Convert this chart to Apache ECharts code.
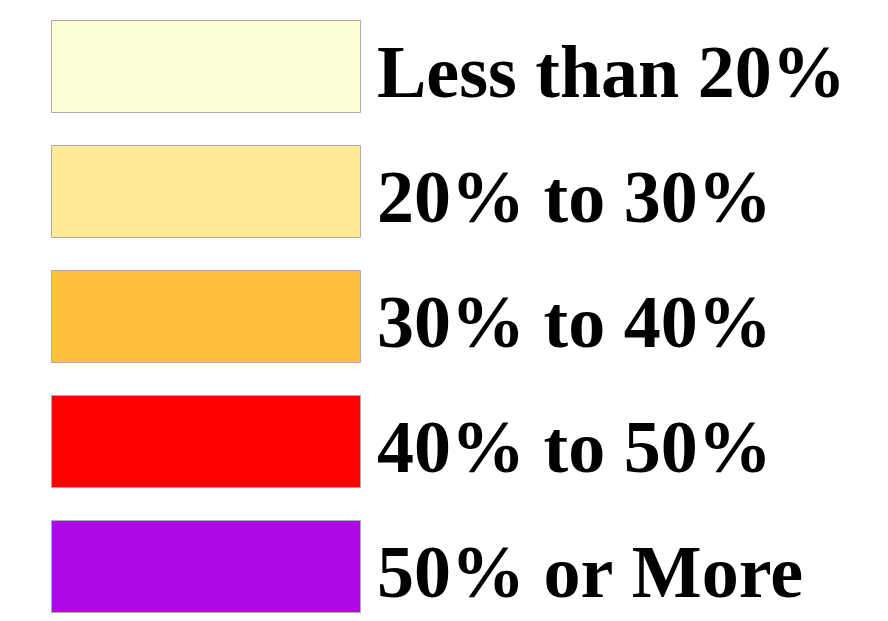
<!DOCTYPE html>
<html><head><meta charset="utf-8">
<script src="https://cdn.jsdelivr.net/npm/echarts@6/dist/echarts.min.js"></script>
<style>html,body{margin:0;padding:0;background:#fff}#c{width:888px;height:621px}</style>
</head><body><div id="c"></div>
<script>
const categories = ['Less than 20%', '20% to 30%', '30% to 40%', '40% to 50%', '50% or More'];
const values = [1, 1, 1, 1, 1];
const colors = ['#FFFFD6', '#FEE994', '#FEC03D', '#FF0000', '#B007E8'];

const chart = echarts.init(document.getElementById('c'), null, {renderer: 'canvas'});
chart.setOption({
  animation: false,
  backgroundColor: '#ffffff',
  grid: {left: 51, width: 310, top: 4, height: 625, containLabel: false, outerBoundsMode: 'none'},
  xAxis: {type: 'value', min: 0, max: 1, show: false},
  yAxis: {
    type: 'category', data: categories, inverse: true, position: 'right',
    axisLine: {show: false}, axisTick: {show: false}, splitLine: {show: false},
    axisLabel: {
      margin: 16, color: '#000', fontFamily: 'Liberation Serif', fontWeight: 'bold', fontSize: 74,
      verticalAlign: 'top', lineHeight: 22
    }
  },
  series: [{
    type: 'bar', barWidth: 93,
    data: values.map((v, i) => ({value: v, itemStyle: {color: colors[i]}})),
    itemStyle: {borderColor: '#aaaaaa', borderWidth: 1}
  }]
});
</script></body></html>
